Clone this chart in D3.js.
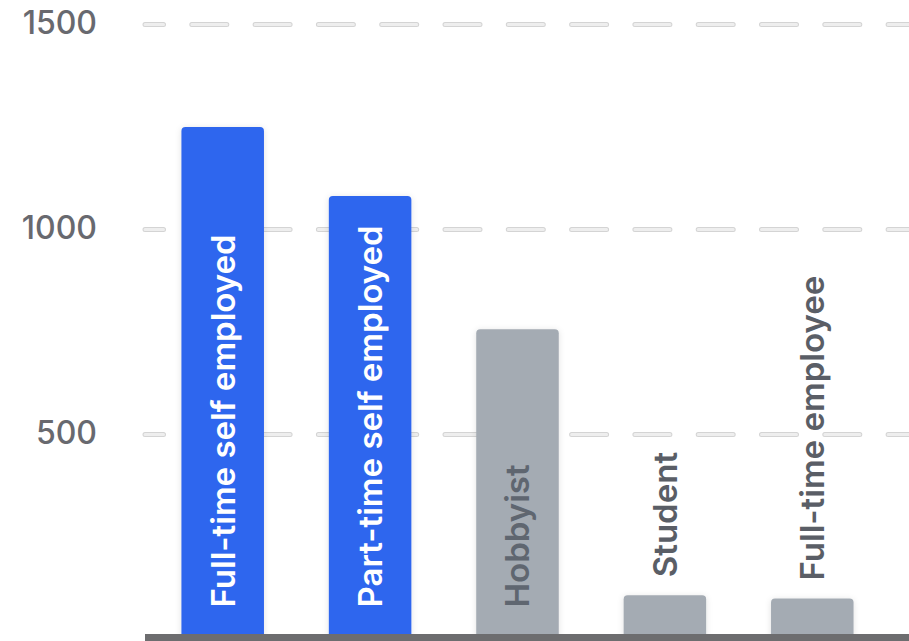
<!DOCTYPE html>
<html>
<head>
<meta charset="utf-8">
<script src="https://cdn.jsdelivr.net/npm/d3@7"></script>
<style>
  html, body { margin: 0; padding: 0; background: #ffffff; }
  svg { display: block; }
</style>
</head>
<body>
<svg id="chart" width="909" height="641"></svg>
<script>
// Respondents by work status
const categories = ["Full-time self employed", "Part-time self employed", "Hobbyist", "Student", "Full-time employee"];
const counts = [1250, 1082, 757, 108, 100];
const highlighted = [true, true, false, false, false];
const yTicks = [500, 1000, 1500];

const W = 909, H = 641;
const svg = d3.select("#chart");

const y = d3.scaleLinear().domain([0, 1500]).range([639.5, 24.5]);
const x = d3.scaleBand().domain(categories).range([149, 886]).paddingInner(0.44).paddingOuter(0.22);

const defs = svg.append("defs");
const shadow = defs.append("filter").attr("id", "barShadow")
  .attr("x", "-20%").attr("y", "-20%").attr("width", "140%").attr("height", "140%");
shadow.append("feDropShadow").attr("dx", 0).attr("dy", 1).attr("stdDeviation", 3)
  .attr("flood-color", "#000").attr("flood-opacity", 0.12);

// Dashed horizontal gridlines: outlined pill-shaped dashes
const grid = svg.append("g").attr("class", "grid");
yTicks.forEach(t => {
  [["#d4d4d4", 5], ["#eeeeee", 3]].forEach(([c, w]) => {
    grid.append("line")
      .attr("x1", 145).attr("x2", W)
      .attr("y1", y(t)).attr("y2", y(t))
      .attr("stroke", c).attr("stroke-width", w)
      .attr("stroke-linecap", "round")
      .attr("stroke-dasharray", "35 28.3")
      .attr("stroke-dashoffset", 16.5);
  });
});

// Y tick labels
const yAxis = svg.append("g").attr("class", "y-axis");
yAxis.selectAll("text").data(yTicks).join("text")
  .attr("x", 97).attr("y", d => y(d) - 2)
  .attr("dy", "0.35em")
  .attr("text-anchor", "end")
  .attr("font-family", "Inter, 'Noto Sans', sans-serif")
  .attr("font-weight", 500)
  .attr("font-size", 32)
  .attr("fill", "#68696f")
  .text(d => d);

// Bars
const bars = svg.append("g").attr("class", "bars");
bars.selectAll("rect").data(categories).join("rect")
  .attr("x", d => x(d))
  .attr("width", x.bandwidth())
  .attr("y", (d, i) => y(counts[i]))
  .attr("height", (d, i) => y(0) - y(counts[i]) + 6)
  .attr("rx", 4)
  .attr("fill", (d, i) => highlighted[i] ? "#2e66ee" : "#a4abb3")
  .attr("filter", "url(#barShadow)");

// Baseline
svg.append("rect")
  .attr("x", 145).attr("width", W - 145)
  .attr("y", y(0) - 5.5).attr("height", 12)
  .attr("fill", "#6d6d6f");

// Category labels, rotated; inside tall bars, above short ones
const labelSize = 33;
const labels = svg.append("g").attr("class", "labels");
categories.forEach((c, i) => {
  const inside = y(0) - y(counts[i]) > 200;
  const startY = inside ? y(0) - 32 : y(counts[i]) - 18;
  labels.append("text")
    .attr("transform", `translate(${x(c) + x.bandwidth() / 2},${startY}) rotate(-90)`)
    .attr("dy", "0.36em")
    .attr("text-anchor", "start")
    .attr("font-family", "Inter, 'Noto Sans', sans-serif")
    .attr("font-weight", 600)
    .attr("font-size", labelSize)
    .attr("fill", inside ? (highlighted[i] ? "#ffffff" : "#5f6670") : "#5a5e66")
    .text(c);
});
</script>
</body>
</html>
